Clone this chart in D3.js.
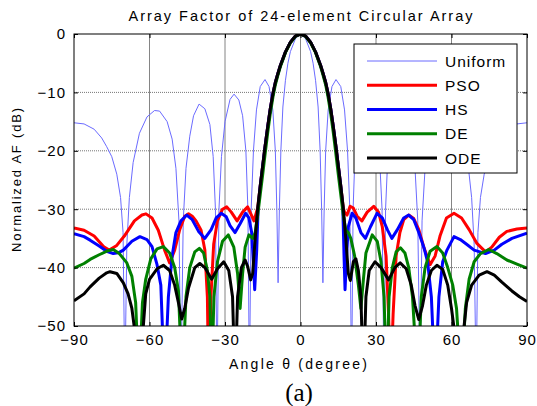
<!DOCTYPE html>
<html>
<head>
<meta charset="utf-8">
<script src="https://cdn.jsdelivr.net/npm/d3@7"></script>
<style>
  body { margin: 0; background: #fff; }
  svg { display: block; font-family: Arial, "Liberation Sans", sans-serif; }
</style>
</head>
<body>
<div id="chart"></div>
<script>
const width = 537, height = 406;

const xTicks = [-90, -60, -30, 0, 30, 60, 90];
const yTicks = [0, -10, -20, -30, -40, -50];
const seriesNames = ["Uniform", "PSO", "HS", "DE", "ODE"];

// [angle (deg), normalized AF (dB)]; nulls below -50 are clipped
const uniform = [
  [-90,-15.2],[-86,-15.4],[-82,-16.3],[-79,-17.8],[-77,-19.3],[-75,-21],[-73,-24],[-71.5,-28],[-70.5,-34],[-69.8,-60],[-69,-36],[-68,-28],[-66.5,-22],[-64,-17],[-61,-14.2],[-58,-13.1],[-56,-13.2],[-53,-15],[-51,-18],[-49.5,-23],[-48.3,-32],[-47.5,-60],[-46.6,-32],[-45.5,-23],[-44,-17.5],[-42.5,-14],[-40.3,-12],[-38,-12.8],[-36,-15.5],[-34.7,-21],[-33.8,-30],[-33.2,-60],[-32.4,-30],[-31.4,-21],[-30,-15],[-28,-11.2],[-26.4,-10.3],[-24.5,-11.3],[-23,-14],[-21.7,-20],[-20.9,-30],[-20.3,-60],[-19.6,-30],[-18.7,-20],[-17.5,-13],[-16,-9],[-14.1,-7.8],[-12.5,-9],[-11,-13],[-10,-20],[-9.4,-30],[-8.9,-42.6],[-8.4,-30],[-7.8,-20],[-7,-12.5],[-6,-8],[-5,-5],[-4,-3],[-2,-0.8],[0,0],
  [2,-0.8],[4,-3],[5,-5],[6,-8],[7,-12.5],[7.8,-20],[8.4,-30],[8.9,-42.6],[9.4,-30],[10,-20],[11,-13],[12.5,-9],[14.1,-7.8],[16,-9],[17.5,-13],[18.7,-20],[19.6,-30],[20.3,-60],[20.9,-30],[21.7,-20],[23,-14],[24.5,-11.3],[26.4,-10.3],[28,-11.2],[30,-15],[31.4,-21],[32.4,-30],[33.2,-60],[33.8,-30],[34.7,-21],[36,-15.5],[38,-12.8],[40.3,-12],[42.5,-14],[44,-17.5],[45.5,-23],[46.6,-32],[47.5,-60],[48.3,-32],[49.5,-23],[51,-18],[53,-15],[56,-13.2],[58,-13.1],[61,-14.2],[64,-17],[66.5,-22],[68,-28],[69,-36],[69.8,-60],[70.5,-34],[71.5,-28],[73,-24],[75,-21],[77,-19.3],[79,-17.8],[82,-16.3],[86,-15.4],[90,-15.2]
];

const pso = [
  [-90,-33.2],[-86,-33.6],[-82,-34.6],[-78,-36.5],[-76,-37],[-73,-36.2],[-70,-34.6],[-66,-32],[-63,-31],[-61.4,-30.8],[-59,-31.5],[-56.5,-33.6],[-54,-37],[-52,-39.2],[-50,-37],[-48,-33.5],[-46,-31.2],[-44.5,-30.8],[-43,-31.2],[-41.5,-32],[-39.5,-33.6],[-38,-37],[-37,-45],[-36.5,-60],[-35.6,-45],[-34.5,-36],[-33,-32],[-31,-30],[-29.3,-29.6],[-27.5,-30.5],[-25.2,-32],[-23,-30.5],[-21,-29.6],[-19.5,-31],[-18.5,-32],[-17.5,-30.5],
  [-17,-29.8],[-16,-26],[-15,-22.5],[-14,-19],[-13,-15.8],[-12,-12.8],[-11,-10.3],[-10,-8.3],[-9,-6.8],[-8,-5.4],[-6,-3.1],[-4,-1.4],[-2,-0.35],[0,0],[2,-0.35],[4,-1.4],[6,-3.1],[8,-5.4],[9,-6.8],[10,-8.3],[11,-10.3],[12,-12.8],[13,-15.8],[14,-19],[15,-22.5],[16,-26],[17,-29.8],
  [17.5,-30.5],[18.5,-31],[19.7,-29.5],[21,-29.8],[22.5,-31.2],[24.4,-32],[26.5,-30.5],[29.1,-29.5],[31,-30.5],[32.5,-33],[34,-38],[35,-48],[35.8,-60],[36.8,-48],[38,-38],[39.5,-34],[41,-31.8],[43,-31],[45,-31.6],[47,-33.5],[49,-36.5],[51.5,-39.5],[53.5,-38],[55.5,-34.5],[58,-31.5],[61,-30.7],[64,-31.5],[67,-33.5],[70,-35.8],[73.5,-37.3],[76,-36.5],[79,-34.8],[82,-33.8],[86,-33.4],[90,-33.2]
];

const hs = [
  [-90,-34.2],[-86,-34.7],[-83.6,-35.3],[-80,-36.3],[-77,-37.2],[-74.4,-37.6],[-72,-37.4],[-70.4,-37],[-67,-35.5],[-63.8,-34.7],[-61,-35.2],[-59,-36.4],[-57,-39.5],[-55.5,-43],[-54,-60],[-52.5,-45],[-51,-38],[-49.5,-34],[-47.5,-32],[-45.2,-31],[-43,-31.8],[-40.5,-33.8],[-38,-35],[-35.5,-33.5],[-33.5,-31.5],[-31.5,-30.7],[-29.5,-31.3],[-28,-32.8],[-26,-34],[-24,-32.5],[-21.8,-30.7],[-20.5,-31.5],[-19.4,-34],[-18.6,-40],[-18.2,-43.8],[-17.4,-37],
  [-16.8,-29.5],[-16,-26],[-15,-22.5],[-14,-19],[-13,-15.8],[-12,-12.8],[-11,-10.3],[-10,-8.3],[-9,-6.8],[-8,-5.4],[-6,-3.1],[-4,-1.4],[-2,-0.35],[0,0],[2,-0.35],[4,-1.4],[6,-3.1],[8,-5.4],[9,-6.8],[10,-8.3],[11,-10.3],[12,-12.8],[13,-15.8],[14,-19],[15,-22.5],[16,-26],[16.8,-29.5],
  [17.3,-38],[17.7,-43.8],[18.3,-38],[19,-33],[20.5,-30.7],[22,-31.5],[24,-34],[25.8,-35],[27.8,-33],[30.4,-30.7],[32.5,-31.5],[34.5,-33.5],[36.3,-35],[38.5,-33.5],[41,-31.5],[43,-31],[45,-31.8],[47,-34],[49,-36.5],[50.5,-39],[52,-45],[53.5,-60],[55,-45],[56.5,-39],[58.2,-37],[61,-34.7],[63.5,-35.2],[66,-36],[69,-37],[73.5,-37.6],[77,-37],[80,-36],[84,-35],[90,-34.1]
];

const de = [
  [-90,-40.1],[-86,-39.3],[-83.6,-38.6],[-80,-37.8],[-76.5,-37.1],[-74.4,-36.9],[-72,-37.6],[-69,-39.2],[-67,-41.5],[-65.5,-46],[-64.2,-60],[-62.8,-46],[-61.5,-42],[-59.5,-38.5],[-57,-36.8],[-54.5,-36.4],[-52,-37.5],[-50,-40],[-48.5,-44],[-47,-60],[-45.5,-45],[-44,-40],[-42,-37.3],[-40.2,-36.7],[-38.5,-37.5],[-37,-40.5],[-36,-45],[-35.3,-60],[-34.4,-45],[-33,-39],[-31,-35.5],[-28.7,-34.4],[-26.5,-36.5],[-25,-41],[-24,-47],[-23,-41],[-22,-36.5],[-20.5,-34.4],[-19,-35],[-18,-34],
  [-17,-31],[-16,-27.5],[-15,-24],[-14,-20.3],[-13,-16.8],[-12,-13.6],[-11,-10.9],[-10,-8.7],[-9,-7.1],[-8,-5.6],[-6,-3.2],[-4,-1.5],[-2,-0.4],[0,0],[2,-0.4],[4,-1.5],[6,-3.2],[8,-5.6],[9,-7.1],[10,-8.7],[11,-10.9],[12,-13.6],[13,-16.8],[14,-20.3],[15,-24],[16,-27.5],[17,-31],
  [18,-33.6],[19,-34],[20,-35],[21.5,-38],[23,-43],[24,-47],[25,-42],[26,-37.5],[28.5,-34.4],[30.5,-35.5],[32,-39],[33.2,-45],[34.2,-60],[35.2,-45],[36.5,-40],[38,-37.3],[39.7,-36.6],[41.5,-37.5],[43,-40],[44.5,-45],[46.6,-60],[48,-45],[49.5,-40],[51.5,-37.2],[54.2,-36.4],[56.5,-37.5],[58.5,-40],[60.5,-43],[62,-47],[63.9,-60],[65.5,-47],[67,-42],[69,-39],[71.5,-37.6],[74.8,-36.9],[78,-37.6],[82,-38.7],[86,-39.4],[90,-40.1]
];

const ode = [
  [-90,-45.7],[-86,-44.5],[-83.6,-43.3],[-80,-41.8],[-77,-40.9],[-75.7,-40.7],[-73,-41],[-70.4,-42.6],[-68.5,-44.5],[-67,-47],[-65.5,-52],[-64.2,-60],[-62.8,-52],[-61.5,-44.5],[-60,-42],[-57,-40.2],[-54.5,-39.6],[-52,-40.5],[-50,-43],[-48.5,-46],[-47.2,-48.8],[-46,-47],[-44.5,-43.5],[-42,-40],[-40,-39.3],[-38,-40],[-35.3,-42],[-33,-40.2],[-30.5,-39],[-28.5,-40.5],[-27,-45],[-26,-60],[-25,-45],[-23.5,-40],[-22,-38.7],[-21,-39.8],[-19.8,-42.1],[-19,-41],[-18,-35],
  [-17,-29.8],[-16,-26],[-15,-22.5],[-14,-19],[-13,-15.8],[-12,-12.8],[-11,-10.3],[-10,-8.3],[-9,-6.8],[-8,-5.4],[-6,-3.1],[-4,-1.4],[-2,-0.35],[0,0],[2,-0.35],[4,-1.4],[6,-3.1],[8,-5.4],[9,-6.8],[10,-8.3],[11,-10.3],[12,-12.8],[13,-15.8],[14,-19],[15,-22.5],[16,-26],[17,-29.8],
  [18,-35],[19,-41],[19.8,-42.2],[21,-39],[22,-38.5],[23,-40.5],[24,-45],[25,-60],[26,-45],[27.3,-40.5],[29.6,-39],[32,-40],[35,-42.1],[37.5,-40],[39.6,-39.2],[42,-40.2],[44,-43],[45.5,-46.5],[47,-48.9],[48.5,-46.5],[50,-43],[52,-40.5],[54.2,-39.6],[56.5,-40.3],[58.5,-43],[60,-47],[61.5,-52],[63,-60],[64.5,-52],[66,-46],[68,-43],[71,-41.3],[74.1,-40.7],[77,-41.3],[80,-42.5],[84,-44],[87,-45],[90,-45.8]
];

const series = [
  { name: "Uniform", data: uniform, color: "#6b6bff", width: 1 },
  { name: "PSO", data: pso, color: "#ff0000", width: 3 },
  { name: "HS", data: hs, color: "#0000ff", width: 3 },
  { name: "DE", data: de, color: "#008000", width: 3 },
  { name: "ODE", data: ode, color: "#000000", width: 3 }
];

const plot = { left: 74, right: 527, top: 34, bottom: 326 };

const x = d3.scaleLinear().domain([-90, 90]).range([plot.left, plot.right]);
const y = d3.scaleLinear().domain([-50, 0]).range([plot.bottom, plot.top]);

const svg = d3.select("#chart").append("svg")
  .attr("width", width)
  .attr("height", height);

svg.append("defs").append("clipPath").attr("id", "clip")
  .append("rect")
  .attr("x", plot.left).attr("y", plot.top)
  .attr("width", plot.right - plot.left).attr("height", plot.bottom - plot.top);

// grid: vertical ones read as solid grey, horizontal ones as dotted
const grid = svg.append("g");
grid.selectAll("line.gx").data(xTicks.slice(1, -1)).enter().append("line")
  .attr("x1", d => x(d)).attr("x2", d => x(d))
  .attr("y1", plot.top).attr("y2", plot.bottom)
  .attr("stroke", "#777").attr("stroke-width", 0.9);
grid.selectAll("line.gy").data(yTicks.slice(1, -1)).enter().append("line")
  .attr("y1", d => y(d)).attr("y2", d => y(d))
  .attr("x1", plot.left).attr("x2", plot.right)
  .attr("stroke", "#666").attr("stroke-width", 0.9).attr("stroke-dasharray", "1,1");

// curves
const line = d3.line().x(d => x(d[0])).y(d => y(d[1]));
svg.append("g").attr("clip-path", "url(#clip)")
  .selectAll("path").data(series).enter().append("path")
  .attr("d", d => line(d.data))
  .attr("fill", "none")
  .attr("stroke", d => d.color)
  .attr("stroke-width", d => d.width)
  .attr("stroke-linejoin", "round");

// axes with inward ticks on all sides
const tickLen = 4;
svg.append("g").attr("transform", `translate(0,${plot.bottom})`)
  .call(d3.axisBottom(x).tickValues(xTicks).tickSizeInner(-tickLen).tickSizeOuter(0).tickPadding(8))
  .call(g => g.select(".domain").remove())
  .call(g => g.selectAll("text").attr("font-size", 15).attr("letter-spacing", 1).attr("fill", "#000").attr("font-family", "Arial, 'Liberation Sans', sans-serif"));
svg.append("g").attr("transform", `translate(0,${plot.top})`)
  .call(d3.axisTop(x).tickValues(xTicks).tickSizeInner(-tickLen).tickSizeOuter(0).tickFormat(""))
  .call(g => g.select(".domain").remove());
svg.append("g").attr("transform", `translate(${plot.left},0)`)
  .call(d3.axisLeft(y).tickValues(yTicks).tickSizeInner(-tickLen).tickSizeOuter(0).tickPadding(8))
  .call(g => g.select(".domain").remove())
  .call(g => g.selectAll("text").attr("font-size", 15).attr("letter-spacing", 1).attr("fill", "#000").attr("font-family", "Arial, 'Liberation Sans', sans-serif"));
svg.append("g").attr("transform", `translate(${plot.right},0)`)
  .call(d3.axisRight(y).tickValues(yTicks).tickSizeInner(-tickLen).tickSizeOuter(0).tickFormat(""))
  .call(g => g.select(".domain").remove());
svg.selectAll(".tick line").attr("stroke", "#000");

svg.append("rect")
  .attr("x", plot.left).attr("y", plot.top)
  .attr("width", plot.right - plot.left).attr("height", plot.bottom - plot.top)
  .attr("fill", "none").attr("stroke", "#000").attr("stroke-width", 1);

// titles
svg.append("text")
  .attr("x", (plot.left + plot.right) / 2).attr("y", 21)
  .attr("text-anchor", "middle").attr("font-size", 14.5)
  .attr("textLength", 344).attr("lengthAdjust", "spacing")
  .text("Array Factor of 24-element Circular Array");

svg.append("text")
  .attr("x", 298).attr("y", 369)
  .attr("text-anchor", "middle").attr("font-size", 14)
  .attr("textLength", 138).attr("lengthAdjust", "spacing")
  .text("Angle θ (degree)");

svg.append("text")
  .attr("transform", "translate(21,180) rotate(-90)")
  .attr("text-anchor", "middle").attr("font-size", 13)
  .attr("textLength", 144).attr("lengthAdjust", "spacing")
  .text("Normalized AF (dB)");

svg.append("text")
  .attr("x", 299).attr("y", 401)
  .attr("text-anchor", "middle").attr("font-size", 25)
  .attr("font-family", "'Liberation Serif', 'Times New Roman', serif")
  .text("(a)");

// legend
const legend = svg.append("g");
legend.append("rect")
  .attr("x", 354).attr("y", 44).attr("width", 163).attr("height", 129)
  .attr("fill", "#fff").attr("stroke", "#000").attr("stroke-width", 1);
const rowY = d3.scalePoint().domain(seriesNames).range([61, 158]);
const item = legend.selectAll("g.item").data(series).enter().append("g")
  .attr("transform", d => `translate(0,${rowY(d.name)})`);
item.append("line")
  .attr("x1", 367).attr("x2", 437)
  .attr("stroke", d => d.color).attr("stroke-width", d => d.width);
item.append("text")
  .attr("x", 445).attr("dy", "0.36em")
  .attr("font-size", 15.5).attr("letter-spacing", 1)
  .text(d => d.name);
</script>
</body>
</html>
